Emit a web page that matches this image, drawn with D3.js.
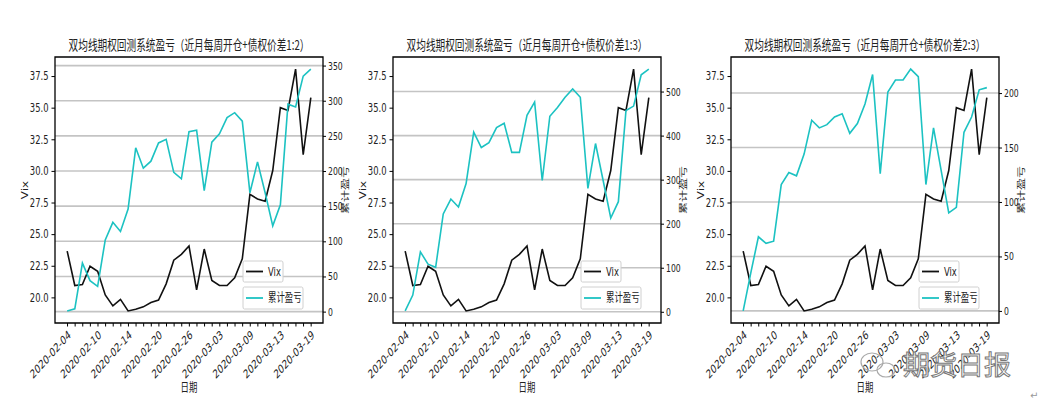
<!DOCTYPE html>
<html>
<head>
<meta charset="utf-8">
<script src="https://cdn.jsdelivr.net/npm/d3@7"></script>
<style>
  body { margin: 0; background: #fff; }
  svg { display: block; }
</style>
</head>
<body>
<div id="chart"></div>
<script>
// trading days on the x axis
var dates = ["2020-02-04", "2020-02-05", "2020-02-06", "2020-02-07", "2020-02-10", "2020-02-11",
    "2020-02-12", "2020-02-13", "2020-02-14", "2020-02-17", "2020-02-18", "2020-02-19", "2020-02-20",
    "2020-02-21", "2020-02-24", "2020-02-25", "2020-02-26", "2020-02-27", "2020-02-28", "2020-03-02",
    "2020-03-03", "2020-03-04", "2020-03-05", "2020-03-06", "2020-03-09", "2020-03-10", "2020-03-11",
    "2020-03-12", "2020-03-13", "2020-03-16", "2020-03-17", "2020-03-18", "2020-03-19"];

// Vix (same in all three charts)
var vix = [23.66, 20.94, 21.02, 22.46, 22.06, 20.19, 19.33, 19.84, 18.93, 19.06, 19.25, 19.60, 19.79,
    21.07, 22.94, 23.40, 24.06, 20.59, 23.82, 21.34, 20.94, 20.94, 21.55, 23.05, 28.15, 27.78, 27.60,
    30.03, 35.00, 34.78, 38.05, 31.28, 35.80];

// cumulative P&L for each spread ratio
var pnl12 = [1, 4, 69, 44, 36, 102, 127, 114, 146, 233, 204, 214, 240, 245, 198, 189, 256, 258, 172,
    241, 253, 276, 283, 271, 169, 213, 169, 122, 152, 295, 291, 335, 345];
var pnl13 = [2, 38, 136, 108, 101, 222, 256, 238, 291, 408, 373, 384, 418, 428, 362, 362, 446, 476, 298,
    444, 464, 487, 506, 487, 280, 382, 298, 213, 250, 457, 467, 538, 551];
var pnl23 = [0, 35, 68, 62, 64, 116, 127, 124, 144, 175, 168, 171, 178, 181, 163, 172, 190, 217, 126,
    201, 212, 212, 222, 215, 116, 168, 129, 90, 95, 164, 178, 203, 205];

var titles = ["双均线期权回测系统盈亏（近月每周开仓+债权价差1:2）",
    "双均线期权回测系统盈亏（近月每周开仓+债权价差1:3）",
    "双均线期权回测系统盈亏（近月每周开仓+债权价差2:3）"];

var vixTicks = [20.0, 22.5, 25.0, 27.5, 30.0, 32.5, 35.0, 37.5];
var pnlTicks = [[0, 50, 100, 150, 200, 250, 300, 350],
    [0, 100, 200, 300, 400, 500],
    [0, 50, 100, 150, 200]];

var series = [pnl12, pnl13, pnl23];

// the picture is squeezed sideways, so draw everything in a group scaled on x
var S = 0.7;
function X(v) { return v / S; }

var width = 1042, height = 410;
var plotLefts = [55, 393, 731], plotW = 268, plotTop = 57, plotBottom = 323;
var cjk = "'Noto Sans CJK SC', 'Noto Sans', sans-serif";
var num = "'DejaVu Sans', sans-serif";
var cyan = "#1cc2c2";

function pad(ext) {
    var m = (ext[1] - ext[0]) * 0.05;
    return [ext[0] - m, ext[1] + m];
}

var svg = d3.select("#chart").append("svg")
    .attr("width", width)
    .attr("height", height);

svg.append("rect").attr("width", width).attr("height", height).attr("fill", "#fff");

var root = svg.append("g").attr("transform", "scale(" + S + ",1)");

series.forEach(function(pnl, i) {
    var left = plotLefts[i];
    var g = root.append("g");

    var x = d3.scaleLinear().domain([-1.6, dates.length - 1 + 1.6]).range([X(left), X(left + plotW)]);
    var yL = d3.scaleLinear().domain(pad(d3.extent(vix))).range([plotBottom, plotTop]);
    var yR = d3.scaleLinear().domain(pad(d3.extent(pnl))).range([plotBottom, plotTop]);

    // gridlines follow the right axis
    g.selectAll(".grid")
        .data(pnlTicks[i])
        .enter()
        .append("line")
        .attr("x1", X(left)).attr("x2", X(left + plotW))
        .attr("y1", function(d) { return yR(d); })
        .attr("y2", function(d) { return yR(d); })
        .attr("stroke", "#c4c4c4")
        .attr("stroke-width", 1.6)
        .attr("vector-effect", "non-scaling-stroke");

    // Vix line
    g.append("path")
        .datum(vix)
        .attr("fill", "none")
        .attr("stroke", "#111")
        .attr("stroke-width", 1.6)
        .attr("vector-effect", "non-scaling-stroke")
        .attr("d", d3.line().x(function(d, j) { return x(j); }).y(function(d) { return yL(d); }));

    // cumulative P&L line
    g.append("path")
        .datum(pnl)
        .attr("fill", "none")
        .attr("stroke", cyan)
        .attr("stroke-width", 1.6)
        .attr("vector-effect", "non-scaling-stroke")
        .attr("d", d3.line().x(function(d, j) { return x(j); }).y(function(d) { return yR(d); }));

    // spines
    g.append("rect")
        .attr("x", X(left)).attr("y", plotTop)
        .attr("width", X(plotW)).attr("height", plotBottom - plotTop)
        .attr("fill", "none")
        .attr("stroke", "#000")
        .attr("stroke-width", 1.3)
        .attr("vector-effect", "non-scaling-stroke");

    // x axis
    var xAxis = d3.axisBottom(x)
        .tickValues(d3.range(dates.length))
        .tickSize(3.5)
        .tickFormat(function(d) { return d % 4 == 0 ? dates[d] : ""; });
    var gx = g.append("g")
        .attr("transform", "translate(0," + plotBottom + ")")
        .call(xAxis);
    gx.selectAll("text")
        .attr("x", 0).attr("y", 0)
        .attr("dy", "0.35em")
        .attr("text-anchor", "end")
        .attr("transform", "translate(3,10) rotate(-38)");

    // left axis
    var gl = g.append("g")
        .attr("transform", "translate(" + X(left) + ",0)")
        .call(d3.axisLeft(yL).tickValues(vixTicks).tickSize(X(3.5)).tickPadding(X(3)).tickFormat(d3.format(".1f")));

    // right axis
    var gr = g.append("g")
        .attr("transform", "translate(" + X(left + plotW) + ",0)")
        .call(d3.axisRight(yR).tickValues(pnlTicks[i]).tickSize(X(3)).tickPadding(X(2)));

    [gx, gl, gr].forEach(function(a) {
        a.select(".domain").remove();
        a.selectAll("line")
            .attr("stroke", "#000")
            .attr("stroke-width", 1)
            .attr("vector-effect", "non-scaling-stroke");
        a.selectAll("text")
            .attr("fill", "#222")
            .attr("font-family", num)
            .attr("font-size", "12px");
    });
    gr.selectAll("text").attr("font-size", "11px");

    // title
    g.append("text")
        .attr("x", X(left + plotW / 2))
        .attr("y", 50)
        .attr("text-anchor", "middle")
        .attr("font-family", cjk)
        .attr("font-size", "13.8px")
        .attr("fill", "#222")
        .text(titles[i]);

    // axis labels
    g.append("text")
        .attr("transform", "translate(" + X(left - 27) + "," + ((plotTop + plotBottom) / 2) + ") rotate(-90)")
        .attr("text-anchor", "middle")
        .attr("font-family", num)
        .attr("font-size", "12px")
        .attr("fill", "#222")
        .text("Vix");

    g.append("text")
        .attr("transform", "translate(" + X(left + plotW + 25) + "," + ((plotTop + plotBottom) / 2) + ") rotate(-90)")
        .attr("text-anchor", "middle")
        .attr("font-family", cjk)
        .attr("font-size", "12px")
        .attr("fill", "#222")
        .text("累计盈亏");

    g.append("text")
        .attr("x", X(left + plotW / 2))
        .attr("y", 392)
        .attr("text-anchor", "middle")
        .attr("font-family", cjk)
        .attr("font-size", "12px")
        .attr("fill", "#222")
        .text("日期");

    // two legends, one per y axis
    var legends = [
        { name: "Vix", color: "#111", top: 261, w: 40, h: 21, font: num },
        { name: "累计盈亏", color: cyan, top: 287, w: 60, h: 22, font: cjk }
    ];
    legends.forEach(function(l) {
        var lg = g.append("g");
        lg.append("rect")
            .attr("x", X(left + 188)).attr("y", l.top)
            .attr("width", X(l.w)).attr("height", l.h)
            .attr("rx", 2)
            .attr("fill", "#fff").attr("fill-opacity", 0.85)
            .attr("stroke", "#d0d0d0")
            .attr("vector-effect", "non-scaling-stroke");
        lg.append("line")
            .attr("x1", X(left + 191)).attr("x2", X(left + 208))
            .attr("y1", l.top + l.h / 2).attr("y2", l.top + l.h / 2)
            .attr("stroke", l.color)
            .attr("stroke-width", 1.8)
            .attr("vector-effect", "non-scaling-stroke");
        lg.append("text")
            .attr("x", X(left + 213))
            .attr("y", l.top + l.h / 2)
            .attr("dy", "0.35em")
            .attr("font-family", l.font)
            .attr("font-size", "12px")
            .attr("fill", "#222")
            .text(l.name);
    });
});

// watermark
var wm = svg.append("g");
wm.append("ellipse").attr("cx", 872).attr("cy", 362).attr("rx", 11).attr("ry", 9)
    .attr("fill", "none").attr("stroke", "#aaa").attr("stroke-width", 1.2);
wm.append("ellipse").attr("cx", 886).attr("cy", 370).attr("rx", 9).attr("ry", 7)
    .attr("fill", "none").attr("stroke", "#aaa").attr("stroke-width", 1.2);
wm.append("text")
    .attr("x", 903).attr("y", 375)
    .attr("font-family", cjk)
    .attr("font-size", "27px")
    .attr("fill", "#fff")
    .attr("stroke", "#777")
    .attr("stroke-width", 1)
    .text("期货日报");

svg.append("text")
    .attr("x", 1030).attr("y", 399)
    .attr("font-family", num)
    .attr("font-size", "10px")
    .attr("fill", "#999")
    .text("↵");
</script>
</body>
</html>
